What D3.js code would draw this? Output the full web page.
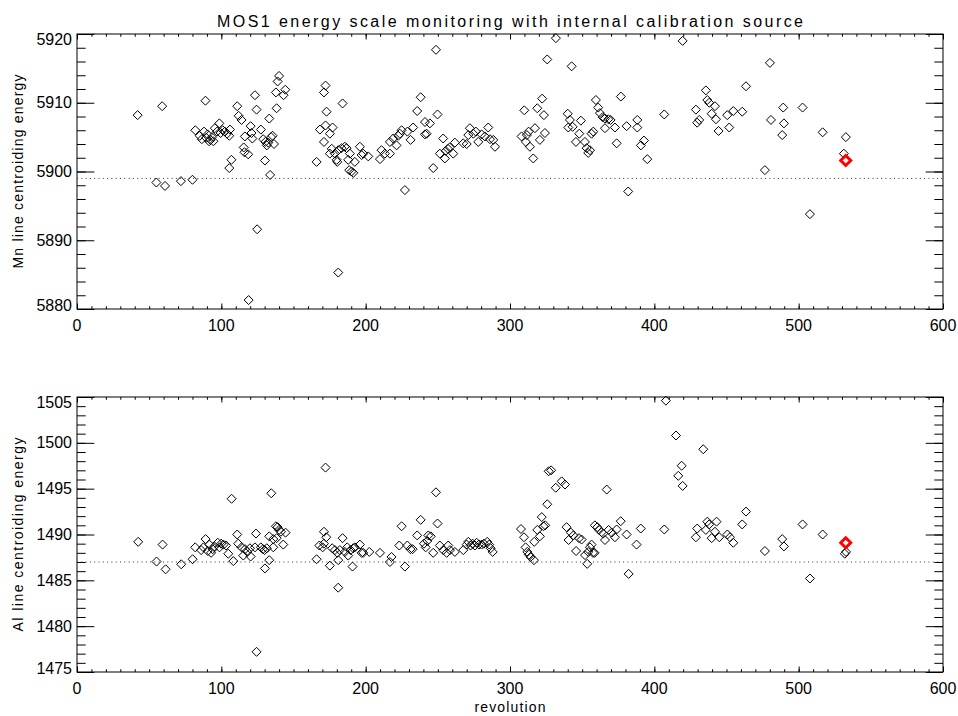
<!DOCTYPE html>
<html>
<head>
<meta charset="utf-8">
<script src="https://cdn.jsdelivr.net/npm/d3@7"></script>
<style>
  body { margin: 0; background: #fff; }
  text { font-family: "Liberation Sans", Arial, sans-serif; fill: #000; }
</style>
</head>
<body>
<div id="chart"></div>
<script>
// MOS1 internal calibration source monitoring, two stacked panels

var svg_width = 958
var svg_height = 716

// Mn line (top panel)
var mnRev = [42, 55, 59, 61, 72, 80, 82, 85, 86.5, 88, 89, 89.5, 90.5, 91.5, 92.5, 93.5, 94.5, 95.5, 97, 98.6,
  99.5, 101, 102.5, 104, 105.5, 106, 105.5, 107, 111, 112, 114, 115.5, 116.3, 116, 118.6, 118.9, 120.3, 120.9, 121.5, 123.3,
  124.4, 124.8, 127.4, 129, 130.2, 130.5, 131.5, 132.5, 133.2, 133.8, 134.5, 135.5, 136.5, 137.8, 138.3, 139, 140, 143.1, 144.3, 166,
  168.3, 171.1, 171.1, 172.2, 172.9, 172.2, 175.2, 177.1, 176.5, 175.2, 178.7, 179.9, 180.3, 181, 181, 183.3, 184, 185.6, 186.8, 187.9,
  189.1, 188.6, 190.2, 191.4, 192.5, 196, 197.2, 198.3, 201.8, 209.9, 211, 213.3, 216.8, 216.8, 219.1, 221.4, 222.6, 223.7, 224.9, 227.2,
  228.9, 231.1, 232.9, 235.7, 238.1, 241.1, 242.2, 241.1, 244.5, 246.8, 248.7, 249.8, 251.4, 253.7, 254.9, 255.5, 257, 258.2, 260.7, 261.8,
  267.6, 270, 271.1, 272.2, 274.6, 276.4, 278, 280.3, 282.6, 284.9, 286.1, 288.4, 289.6, 308, 309.9, 311, 311.7, 312.9, 313.8, 316.1,
  317.3, 318.9, 320.7, 322.3, 323.5, 324.2, 325.8, 331.8, 340, 340.4, 341.5, 342.7, 343.4, 345.7, 348, 349.1, 351.9, 353.1, 354.2, 355.4,
  356.5, 357.7, 359.5, 361.1, 362.3, 364.2, 365.8, 365.8, 368.1, 369.7, 372.7, 373.9, 376.8, 380.8, 381.9, 388.2, 388.2, 390.7, 392.8, 395.1,
  406.9, 419.6, 428.8, 429.7, 431.1, 435.7, 436.7, 438, 439.7, 442, 442.7, 444.5, 450.5, 451.9, 454.7, 460.9, 463.5, 476.6, 480.1, 480.8,
  488.6, 489.3, 489.8, 502.7, 507.8, 516.6, 531.3, 532.7]
var mnVal = [5908.2, 5898.4, 5909.5, 5897.9, 5898.6, 5898.8, 5906.0, 5905.2, 5904.7, 5905.8, 5910.3, 5904.9, 5905.4, 5904.4, 5904.6, 5905.0, 5904.4, 5906.3, 5905.8, 5907.0,
  5905.6, 5906.0, 5905.8, 5905.5, 5905.2, 5906.1, 5900.5, 5901.7, 5909.5, 5908.1, 5907.5, 5903.5, 5905.1, 5902.8, 5902.5, 5881.3, 5906.6, 5905.6, 5904.8, 5911.1,
  5909.0, 5891.6, 5906.1, 5904.7, 5901.6, 5904.3, 5903.8, 5904.2, 5907.7, 5899.5, 5905.0, 5905.2, 5904.0, 5911.5, 5909.2, 5913.1, 5913.9, 5911.1, 5911.9, 5901.4,
  5906.1, 5904.3, 5911.5, 5912.5, 5908.7, 5906.7, 5905.5, 5906.4, 5903.3, 5902.6, 5902.6, 5901.7, 5901.4, 5903.1, 5885.3, 5903.4, 5909.9, 5903.6, 5903.4, 5901.7,
  5902.6, 5900.2, 5900.0, 5899.8, 5901.4, 5903.6, 5902.4, 5902.6, 5902.2, 5901.8, 5903.1, 5902.6, 5902.6, 5904.3, 5904.8, 5903.8, 5905.2, 5905.5, 5906.0, 5897.3,
  5905.8, 5904.6, 5906.4, 5908.8, 5910.8, 5905.4, 5905.5, 5907.2, 5907.0, 5900.5, 5917.7, 5908.3, 5902.6, 5904.8, 5901.9, 5903.0, 5903.3, 5903.5, 5902.6, 5904.2,
  5904.1, 5904.0, 5905.3, 5906.3, 5905.5, 5905.8, 5904.3, 5905.4, 5905.1, 5906.4, 5904.7, 5904.6, 5903.6, 5905.1, 5908.9, 5904.3, 5905.3, 5905.8, 5903.6, 5901.9,
  5906.3, 5909.2, 5904.6, 5910.6, 5908.2, 5905.6, 5916.3, 5919.4, 5908.4, 5906.4, 5907.5, 5915.3, 5906.5, 5904.3, 5905.5, 5907.4, 5904.3, 5903.4, 5902.7, 5903.1,
  5905.5, 5905.8, 5910.4, 5909.3, 5908.5, 5907.9, 5907.7, 5906.3, 5907.6, 5907.5, 5906.4, 5904.1, 5910.9, 5906.6, 5897.1, 5907.5, 5906.4, 5903.8, 5904.5, 5901.8,
  5908.3, 5919.0, 5909.0, 5907.1, 5907.5, 5911.8, 5910.4, 5910.0, 5908.4, 5909.5, 5907.6, 5905.9, 5908.2, 5906.4, 5908.8, 5908.7, 5912.4, 5900.2, 5915.8, 5907.5,
  5905.3, 5909.3, 5907.0, 5909.3, 5893.8, 5905.7, 5902.6, 5905.0]

// Al line (bottom panel)
var alRev = [42.4, 55.1, 59.3, 61.4, 72.2, 80.1, 81.9, 86, 87.6, 89.1, 90.6, 91.7, 92.9, 94, 95.2, 97.5, 98.7, 99.9, 101.5, 103.3,
  104.8, 107.1, 108.3, 111, 111.7, 114, 115.2, 116.4, 118, 119.8, 120.3, 123.3, 124, 124.4, 127.4, 128.8, 130, 131.5, 130.2, 133.2,
  133.2, 134.6, 136, 136, 137.8, 138.3, 139, 140, 141.3, 142.9, 144.5, 166, 167.9, 170.2, 171.1, 171.1, 172.2, 172.7, 175.2, 176.8,
  178.7, 180.3, 181, 181, 182.1, 184, 185.6, 187.2, 187.9, 189.6, 190.9, 191.4, 192.5, 196, 197.2, 198.3, 202.5, 209.9, 216.8, 217.9,
  223.3, 224.9, 227.2, 228.9, 231, 232.5, 235.7, 238.1, 240.4, 241.6, 242.7, 243.4, 245.1, 246.8, 248.7, 249.8, 251.4, 253.7, 256.1, 257.2,
  258.4, 261.8, 267.6, 270, 271.1, 272.7, 274.1, 275.7, 276.9, 278.5, 280.3, 281.9, 284.2, 285.6, 286.6, 288, 307.6, 309.7, 310.8, 312,
  313.1, 314.3, 316.6, 316.8, 318.9, 320.7, 322, 323.2, 324.4, 325.8, 326.8, 328.5, 331.7, 335.8, 338.1, 339.2, 340.6, 342.2, 343.9, 345.8,
  347.8, 349.6, 352, 353.5, 354.2, 355.4, 356.5, 357.5, 358.6, 358.8, 360.5, 361.7, 363.5, 364.6, 365.8, 367, 368.3, 370.4, 372.7, 373.9,
  376.7, 380.8, 382.2, 387.7, 390.6, 406.9, 408, 415, 416.6, 418.9, 419.6, 428.8, 429.7, 433.9, 435.7, 436.7, 438, 439.7, 442, 443.1,
  445, 450.6, 452.4, 454.7, 460.9, 463.5, 476.6, 488.6, 489.8, 502.7, 507.8, 516.6, 532, 532.8]
var alVal = [1489.2, 1487.05, 1488.9, 1486.2, 1486.75, 1487.3, 1488.6, 1488.3, 1488.6, 1489.5, 1488.2, 1488.9, 1488.0, 1488.4, 1488.7, 1489.1, 1488.6, 1489.0, 1488.9, 1488.8,
  1487.9, 1493.9, 1487.1, 1490.0, 1489.0, 1488.6, 1487.7, 1488.4, 1488.1, 1488.5, 1487.6, 1488.6, 1490.1, 1477.2, 1488.6, 1488.4, 1488.3, 1488.5, 1486.3, 1487.2,
  1489.8, 1494.5, 1488.6, 1489.5, 1490.9, 1489.6, 1490.8, 1490.5, 1490.3, 1488.9, 1490.2, 1487.3, 1488.8, 1488.6, 1489.0, 1490.3, 1497.3, 1489.7, 1486.6, 1488.5,
  1488.3, 1488.0, 1487.2, 1484.2, 1488.3, 1489.6, 1488.1, 1488.6, 1487.7, 1488.3, 1486.5, 1488.5, 1488.6, 1488.9, 1488.0, 1488.0, 1488.1, 1488.0, 1487.0, 1487.55,
  1488.8, 1490.9, 1486.5, 1488.8, 1488.4, 1488.4, 1489.9, 1491.6, 1489.0, 1488.6, 1489.3, 1489.9, 1489.8, 1488.0, 1494.6, 1491.2, 1488.8, 1488.3, 1488.0, 1488.8,
  1488.3, 1488.1, 1488.3, 1488.9, 1489.2, 1488.8, 1489.0, 1488.8, 1489.1, 1488.9, 1488.9, 1489.0, 1489.2, 1488.9, 1488.5, 1488.1, 1490.6, 1489.7, 1488.6, 1488.1,
  1487.8, 1487.55, 1487.2, 1489.2, 1490.5, 1489.8, 1491.9, 1490.9, 1491.0, 1493.3, 1496.9, 1497.0, 1495.1, 1495.8, 1495.45, 1490.8, 1489.4, 1490.2, 1489.9, 1488.2,
  1489.6, 1489.45, 1487.75, 1486.8, 1488.1, 1488.6, 1488.9, 1488.0, 1488.0, 1491.0, 1490.8, 1490.5, 1490.25, 1490.1, 1489.4, 1494.9, 1490.5, 1490.2, 1489.7, 1490.55,
  1491.45, 1490.0, 1485.7, 1488.9, 1490.65, 1490.55, 1504.6, 1500.8, 1496.4, 1497.5, 1495.3, 1489.7, 1490.65, 1499.3, 1490.5, 1491.4, 1491.1, 1489.6, 1490.3, 1491.4,
  1489.7, 1490.0, 1489.7, 1489.1, 1491.1, 1492.5, 1488.2, 1489.5, 1488.7, 1491.1, 1485.2, 1490.0, 1487.9, 1488.1]

// latest revolution, highlighted in red
var latestRev = [532.6]
var latestMn = [5901.6]
var latestAl = [1489.1]

// nominal line energies (dotted lines)
var mnRef = 5899
var alRef = 1487

var xDomain = [0, 600]
var mnDomain = [5880, 5920]
var alDomain = [1475, 1505]

var left = 77, right = 943

var svg = d3.select("#chart")
  .append("svg")
    .attr("width", svg_width)
    .attr("height", svg_height)

svg.append("text")
  .attr("x", (left + right) / 2)
  .attr("y", 27)
  .attr("text-anchor", "middle")
  .attr("textLength", 586)
  .attr("lengthAdjust", "spacing")
  .style("font-size", "16px")
  .text("MOS1 energy scale monitoring with internal calibration source")

var diamond = "M0,-4.5L4.5,0L0,4.5L-4.5,0Z"
var bigDiamond = "M0,-5L5,0L0,5L-5,0Z"

function panel(top, bottom, yDomain, yMajor, yMinor, rev, vals, ref, redY, yTitle, titleLen, xTitle) {
    var x = d3.scaleLinear().domain(xDomain).range([left, right])
    var y = d3.scaleLinear().domain(yDomain).range([bottom, top])
    var w = right - left, h = bottom - top
    var g = svg.append("g")

    var xMajorTicks = d3.range(0, 601, 100)
    var xMinorTicks = d3.range(0, 601, 10)
    var yMajorTicks = d3.range(yDomain[0], yDomain[1] + 0.001, yMajor)
    var yMinorTicks = d3.range(yDomain[0], yDomain[1] + 0.001, yMinor)

    // ticks point inward on all four sides (0.02 of the plot size)
    function ticks(axis, vals, len, pos) {
        var a = g.append("g")
            .attr("transform", pos)
            .call(axis.tickValues(vals).tickSize(-len).tickSizeOuter(0).tickFormat(""))
        a.select(".domain").remove()
        a.selectAll("line").attr("stroke", "#000")
        return a
    }
    ticks(d3.axisBottom(x), xMinorTicks, h * 0.01, "translate(0," + bottom + ")")
    ticks(d3.axisBottom(x), xMajorTicks, h * 0.02, "translate(0," + bottom + ")")
    ticks(d3.axisTop(x), xMinorTicks, h * 0.01, "translate(0," + top + ")")
    ticks(d3.axisTop(x), xMajorTicks, h * 0.02, "translate(0," + top + ")")
    ticks(d3.axisLeft(y), yMinorTicks, w * 0.01, "translate(" + left + ",0)")
    ticks(d3.axisLeft(y), yMajorTicks, w * 0.02, "translate(" + left + ",0)")
    ticks(d3.axisRight(y), yMinorTicks, w * 0.01, "translate(" + right + ",0)")
    ticks(d3.axisRight(y), yMajorTicks, w * 0.02, "translate(" + right + ",0)")

    g.append("rect")
        .attr("x", left).attr("y", top)
        .attr("width", w).attr("height", h)
        .attr("fill", "none").attr("stroke", "#000").attr("stroke-width", 1)

    // tick labels
    g.selectAll(".xl")
        .data(xMajorTicks)
        .enter()
        .append("text")
            .attr("x", function(d) { return x(d) })
            .attr("y", bottom + 22)
            .attr("text-anchor", "middle")
            .style("font-size", "16px")
            .text(function(d) { return d })

    g.selectAll(".yl")
        .data(yMajorTicks)
        .enter()
        .append("text")
            .attr("x", left - 5)
            .attr("y", function(d, i) {
                var off = 5.5
                if (i == 0) off = 1.5
                if (i == yMajorTicks.length - 1) off = 11
                return y(d) + off
            })
            .attr("text-anchor", "end")
            .style("font-size", "16px")
            .text(function(d) { return d })

    g.append("text")
        .attr("transform", "translate(23," + (top + bottom) / 2 + ") rotate(-90)")
        .attr("text-anchor", "middle")
        .attr("textLength", titleLen)
        .attr("lengthAdjust", "spacing")
        .style("font-size", "14px")
        .text(yTitle)

    if (xTitle) {
        g.append("text")
            .attr("x", (left + right) / 2)
            .attr("y", bottom + 40)
            .attr("text-anchor", "middle")
            .attr("textLength", 71)
            .attr("lengthAdjust", "spacing")
            .style("font-size", "14px")
            .text(xTitle)
    }

    // nominal energy
    g.append("line")
        .attr("x1", left).attr("x2", right)
        .attr("y1", y(ref)).attr("y2", y(ref))
        .attr("stroke", "#333")
        .attr("stroke-width", 1)
        .attr("stroke-dasharray", "1,3.3")

    g.selectAll(".pt")
        .data(rev)
        .enter()
        .append("path")
            .attr("d", diamond)
            .attr("transform", function(d, i) { return "translate(" + x(d) + "," + y(vals[i]) + ")" })
            .attr("fill", "none")
            .attr("stroke", "#000")
            .attr("stroke-width", 1)

    g.selectAll(".red")
        .data(latestRev)
        .enter()
        .append("path")
            .attr("d", bigDiamond)
            .attr("transform", function(d, i) { return "translate(" + x(d) + "," + y(redY[i]) + ")" })
            .attr("fill", "none")
            .attr("stroke", "#ff0000")
            .attr("stroke-width", 3)
}

panel(34, 309, mnDomain, 10, 2, mnRev, mnVal, mnRef, latestMn, "Mn line centroiding energy", 194, null)
panel(397, 672, alDomain, 5, 1, alRev, alVal, alRef, latestAl, "Al line centroiding energy", 194, "revolution")
</script>
</body>
</html>
